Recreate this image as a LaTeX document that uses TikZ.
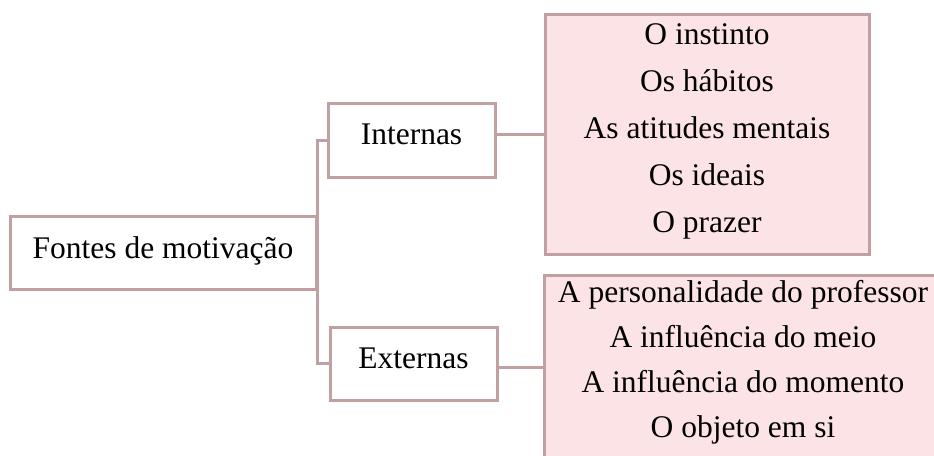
\documentclass[tikz,border=0pt]{standalone}
\usepackage{fontspec}
\setmainfont{Liberation Serif}
\definecolor{edgec}{RGB}{192,160,160}
\definecolor{pinkfill}{RGB}{252,228,230}
\begin{document}
\begin{tikzpicture}[x=1pt,y=-1pt,
  box/.style={draw=edgec,line width=3pt,fill=white,inner sep=0pt,
    font=\fontsize{31.5}{47}\selectfont,align=center},
  listbox/.style={box,fill=pinkfill},
  txt/.style={inner sep=0pt,font=\fontsize{31.5}{47}\selectfont,align=center},
  conn/.style={draw=edgec,line width=3pt}]
\useasboundingbox (0,0) rectangle (934,455);
\clip (0,0) rectangle (934,455);
\node[box,minimum width=306pt,minimum height=73pt] (root) at (163,252.5) {\raisebox{2pt}[\height][\depth]{Fontes de motivação}};
\node[box,minimum width=167pt,minimum height=74pt] (int) at (411.5,140) {\raisebox{6pt}[\height][\depth]{Internas}};
\node[box,minimum width=167pt,minimum height=73pt] (ext) at (413.5,363.5) {\raisebox{5pt}[\height][\depth]{Externas}};
\node[listbox,minimum width=324pt,minimum height=240pt] (rtop) at (707,134) {};
\node[txt] (rtoptxt) at ([yshift=3pt]rtop.center)
  {O instinto\\Os hábitos\\As atitudes mentais\\Os ideais\\O prazer};
\node[listbox,minimum width=398pt,minimum height=184pt] (rbot) at (743,367) {};
\node[txt,font=\fontsize{31.5}{45}\selectfont] (rbottxt) at ([yshift=5pt]rbot.center)
  {A personalidade do professor\\A influência do meio\\A influência do momento\\O objeto em si};
\draw[conn] (int.west) -| (root.east) |- (ext.west);
\draw[conn] (rtop.west) -- (int.east |- rtop.west);
\draw[conn] (rbot.west) -- (ext.east |- rbot.west);
\end{tikzpicture}
\end{document}
